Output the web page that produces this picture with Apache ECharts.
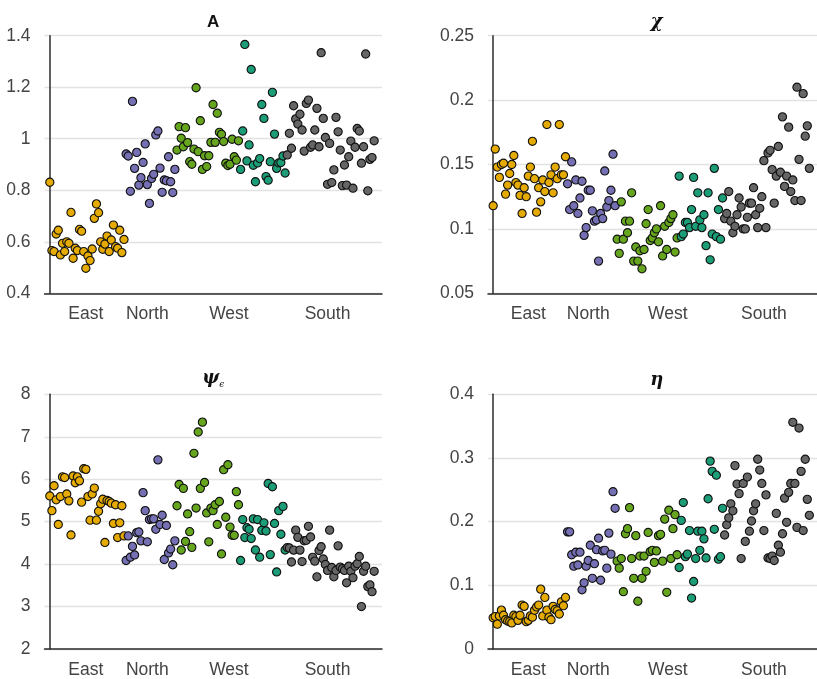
<!DOCTYPE html>
<html>
<head>
<meta charset="utf-8">
<script src="https://cdn.jsdelivr.net/npm/echarts@6/dist/echarts.min.js"></script>
<style>
  html, body { margin: 0; padding: 0; background: #fff; }
  #chart { width: 817px; height: 679px; }
</style>
</head>
<body>
<div id="chart"></div>
<script>
// Region tick labels and where they sit along the observation index
const regions = ['East', 'North', 'West', 'South'];
const regionTickPos = [17, 46, 84.5, 131];

// First observation index of each group (East, North, West-1, West-2, South)
const groupStart = [0, 36, 60, 90, 112];

// Panel A
const aEast = [0.831, 0.566, 0.562, 0.630, 0.645, 0.549, 0.594, 0.562, 0.600, 0.594, 0.714, 0.536, 0.575, 0.566, 0.648, 0.641, 0.562, 0.497, 0.545, 0.527, 0.572, 0.691, 0.747, 0.713, 0.600, 0.571, 0.591, 0.622, 0.562, 0.607, 0.665, 0.581, 0.575, 0.645, 0.558, 0.609];
const aNorth = [0.941, 0.933, 0.796, 1.145, 0.885, 0.947, 0.820, 0.849, 0.908, 0.980, 0.822, 0.749, 0.846, 0.862, 1.015, 1.030, 0.886, 0.792, 0.840, 0.837, 0.930, 0.833, 0.791, 0.881];
const aWest1 = [0.956, 1.047, 1.002, 0.969, 1.043, 0.985, 0.911, 0.901, 0.960, 1.198, 0.950, 1.070, 0.881, 0.934, 0.892, 0.934, 0.986, 1.133, 0.986, 1.099, 1.025, 1.017, 0.989, 0.905, 0.896, 0.901, 0.998, 0.930, 0.917, 0.992];
const aWest2 = [0.881, 1.030, 1.366, 0.914, 0.976, 1.269, 0.897, 0.833, 0.906, 0.923, 1.133, 1.079, 0.853, 0.839, 0.911, 1.180, 1.018, 0.885, 0.906, 0.908, 0.933, 0.867];
const aSouth = [0.937, 1.021, 0.963, 1.128, 1.077, 1.057, 1.095, 1.034, 0.952, 1.137, 1.150, 0.967, 0.976, 1.034, 1.118, 0.969, 1.334, 1.079, 1.005, 0.823, 0.982, 0.830, 0.879, 1.083, 1.027, 0.956, 0.818, 0.898, 0.820, 0.930, 0.991, 0.808, 0.967, 1.040, 1.030, 0.905, 0.969, 1.329, 0.798, 0.920, 0.927, 0.992];

// Panel chi
const chiEast = [0.118, 0.162, 0.148, 0.140, 0.150, 0.151, 0.127, 0.134, 0.143, 0.150, 0.157, 0.136, 0.134, 0.126, 0.112, 0.132, 0.125, 0.141, 0.148, 0.168, 0.139, 0.113, 0.132, 0.121, 0.138, 0.129, 0.181, 0.136, 0.142, 0.128, 0.148, 0.139, 0.181, 0.142, 0.142, 0.156];
const chiNorth = [0.135, 0.115, 0.152, 0.118, 0.138, 0.112, 0.124, 0.137, 0.095, 0.101, 0.130, 0.130, 0.114, 0.106, 0.107, 0.075, 0.112, 0.108, 0.145, 0.117, 0.122, 0.130, 0.158, 0.118];
const chiWest1 = [0.092, 0.081, 0.121, 0.092, 0.106, 0.097, 0.106, 0.128, 0.075, 0.086, 0.075, 0.083, 0.069, 0.084, 0.104, 0.115, 0.091, 0.093, 0.097, 0.100, 0.090, 0.118, 0.079, 0.102, 0.084, 0.105, 0.108, 0.111, 0.082, 0.093];
const chiWest2 = [0.141, 0.094, 0.096, 0.105, 0.105, 0.101, 0.115, 0.140, 0.102, 0.128, 0.107, 0.101, 0.111, 0.087, 0.128, 0.076, 0.096, 0.147, 0.094, 0.115, 0.092, 0.124];
const chiSouth = [0.108, 0.112, 0.129, 0.106, 0.097, 0.102, 0.111, 0.124, 0.117, 0.100, 0.100, 0.109, 0.120, 0.120, 0.132, 0.111, 0.101, 0.116, 0.125, 0.153, 0.101, 0.159, 0.161, 0.146, 0.120, 0.141, 0.164, 0.144, 0.187, 0.133, 0.141, 0.179, 0.129, 0.138, 0.122, 0.210, 0.154, 0.122, 0.205, 0.172, 0.180, 0.147];

// Panel psi_epsilon
const psiEast = [5.606, 5.259, 5.846, 5.514, 4.934, 5.591, 6.054, 6.039, 5.653, 5.490, 4.687, 6.077, 5.915, 6.054, 5.961, 5.459, 6.247, 6.232, 5.591, 5.035, 5.653, 5.792, 5.035, 5.243, 5.421, 5.529, 4.510, 5.498, 5.475, 5.436, 4.958, 5.398, 4.625, 4.973, 5.375, 4.664];
const psiNorth = [4.085, 4.664, 4.162, 4.417, 4.216, 4.741, 4.757, 4.548, 5.683, 5.259, 4.525, 5.050, 5.066, 5.066, 4.819, 6.456, 4.934, 5.151, 4.108, 4.911, 4.263, 4.355, 3.985, 4.548];
const psiWest1 = [5.375, 5.876, 4.332, 5.784, 4.533, 5.181, 4.764, 4.394, 6.610, 5.320, 7.112, 5.784, 7.344, 5.923, 5.205, 4.525, 5.320, 5.259, 5.398, 4.934, 5.475, 4.239, 6.224, 5.104, 6.340, 4.873, 4.680, 4.680, 5.707, 5.398];
const psiWest2 = [4.085, 5.050, 4.625, 4.857, 4.819, 4.602, 5.066, 4.332, 5.050, 4.162, 4.795, 4.973, 4.780, 5.900, 4.224, 5.822, 4.958, 3.815, 5.259, 4.703, 5.359, 4.332];
const psiSouth = [4.39, 4.38, 4.05, 4.33, 4.80, 4.63, 4.33, 4.06, 4.55, 4.56, 4.89, 4.64, 4.16, 4.07, 3.70, 4.32, 4.41, 4.12, 3.99, 3.85, 4.80, 3.92, 3.70, 3.85, 4.43, 3.93, 3.89, 3.85, 3.56, 3.95, 3.83, 3.68, 3.95, 4.01, 4.18, 3.00, 3.83, 3.95, 3.47, 3.51, 3.35, 3.83];

// Panel eta
const etaEast = [0.049, 0.051, 0.039, 0.052, 0.061, 0.053, 0.046, 0.044, 0.043, 0.041, 0.053, 0.051, 0.045, 0.053, 0.069, 0.067, 0.043, 0.045, 0.052, 0.050, 0.061, 0.066, 0.069, 0.094, 0.052, 0.081, 0.061, 0.050, 0.046, 0.067, 0.062, 0.060, 0.055, 0.074, 0.068, 0.081];
const etaNorth = [0.184, 0.184, 0.148, 0.130, 0.152, 0.132, 0.152, 0.093, 0.104, 0.130, 0.139, 0.163, 0.111, 0.134, 0.156, 0.174, 0.108, 0.154, 0.155, 0.127, 0.182, 0.149, 0.247, 0.221];
const etaWest1 = [0.138, 0.127, 0.142, 0.090, 0.181, 0.189, 0.222, 0.142, 0.111, 0.178, 0.075, 0.146, 0.111, 0.146, 0.122, 0.183, 0.153, 0.155, 0.136, 0.154, 0.178, 0.180, 0.138, 0.204, 0.089, 0.218, 0.142, 0.189, 0.211, 0.148];
const etaWest2 = [0.128, 0.202, 0.230, 0.145, 0.149, 0.186, 0.080, 0.106, 0.142, 0.185, 0.155, 0.185, 0.173, 0.143, 0.236, 0.295, 0.279, 0.188, 0.273, 0.141, 0.145, 0.221];
const etaSouth = [0.179, 0.195, 0.206, 0.228, 0.217, 0.288, 0.259, 0.244, 0.142, 0.260, 0.169, 0.270, 0.185, 0.201, 0.217, 0.228, 0.298, 0.281, 0.260, 0.186, 0.242, 0.143, 0.142, 0.146, 0.139, 0.213, 0.163, 0.152, 0.181, 0.237, 0.199, 0.246, 0.260, 0.356, 0.260, 0.191, 0.347, 0.279, 0.186, 0.298, 0.235, 0.210];

// Group colours (Dark2)
const groupColors = ['#E6AB02', '#7570B3', '#66A61E', '#1B9E77', '#666666'];

// Panel layout: grid boxes, y ranges
const panels = [
  { groups: [aEast, aNorth, aWest1, aWest2, aSouth], left: 44.5, top: 35.7, height: 257.6, min: 0.4, max: 1.4, interval: 0.2 },
  { groups: [chiEast, chiNorth, chiWest1, chiWest2, chiSouth], left: 488, top: 35.7, height: 257.6, min: 0.05, max: 0.25, interval: 0.05 },
  { groups: [psiEast, psiNorth, psiWest1, psiWest2, psiSouth], left: 44.5, top: 394.3, height: 259, min: 2, max: 8, interval: 1 },
  { groups: [etaEast, etaNorth, etaWest1, etaWest2, etaSouth], left: 488, top: 394.3, height: 258.4, min: 0, max: 0.4, interval: 0.1 }
];
const panelWidth = 337.5;

const labelFont = "'Liberation Sans', Arial, sans-serif";
const textGray = '#444';
const axisDark = '#2b2b2b';

const grids = [], xAxes = [], yAxes = [], series = [];
panels.forEach((p, pi) => {
  grids.push({ left: p.left, top: p.top, width: panelWidth, height: p.height, containLabel: false });
  xAxes.push({
    type: 'value', gridIndex: pi, min: -2.5, max: 156.7,
    axisLine: { show: true, onZero: false, lineStyle: { color: axisDark, width: 1.5 } },
    axisTick: { show: false },
    splitLine: { show: false },
    axisLabel: {
      customValues: regionTickPos,
      formatter: v => regions[regionTickPos.indexOf(v)] || '',
      color: textGray, fontFamily: labelFont, fontSize: 17.5, margin: 12
    }
  });
  yAxes.push({
    type: 'value', gridIndex: pi, min: p.min, max: p.max, interval: p.interval,
    axisLine: { show: true, lineStyle: { color: axisDark, width: 1.5 } },
    axisTick: { show: false },
    splitLine: { show: true, lineStyle: { color: '#e2e2e2', width: 1.4 } },
    axisLabel: { color: textGray, fontFamily: labelFont, fontSize: 17.5, margin: 14 }
  });
  p.groups.forEach((vals, gi) => {
    series.push({
      type: 'scatter', xAxisIndex: pi, yAxisIndex: pi,
      data: vals.map((v, i) => [groupStart[gi] + i, v]),
      symbol: 'circle', symbolSize: 8.2,
      itemStyle: { color: groupColors[gi], borderColor: '#111', borderWidth: 1.1, opacity: 1 },
      emphasis: { disabled: true },
      animation: false
    });
  });
});

// Panel titles
const greekFont = "'DejaVu Serif', serif";
const titles = [
  { x: 213.25, y: 31, text: '{s|A}', rich: { s: { fontFamily: labelFont, fontWeight: 'bold', fontSize: 17, fill: '#111' } } },
  { x: 656.75, y: 31, text: '{g|χ}', rich: { g: { fontFamily: greekFont, fontWeight: 'bold', fontStyle: 'italic', fontSize: 18, fill: '#111' } } },
  { x: 213.25, y: 389, text: '{g|ψ}{e|ϵ}', rich: {
      g: { fontFamily: greekFont, fontWeight: 'bold', fontStyle: 'italic', fontSize: 18, fill: '#111', lineHeight: 22 },
      e: { fontFamily: greekFont, fontStyle: 'italic', fontSize: 9, fill: '#111', verticalAlign: 'bottom', lineHeight: 22 } } },
  { x: 656.75, y: 389, text: '{g|η}', rich: { g: { fontFamily: greekFont, fontWeight: 'bold', fontStyle: 'italic', fontSize: 18, fill: '#111' } } }
];

const chart = echarts.init(document.getElementById('chart'), null, { renderer: 'canvas' });
chart.setOption({
  animation: false,
  backgroundColor: '#fff',
  grid: grids,
  xAxis: xAxes,
  yAxis: yAxes,
  series: series,
  graphic: titles.map(t => ({
    type: 'text', x: t.x, y: t.y, silent: true,
    style: { text: t.text, rich: t.rich, align: 'center', verticalAlign: 'bottom' }
  }))
});
</script>
</body>
</html>
